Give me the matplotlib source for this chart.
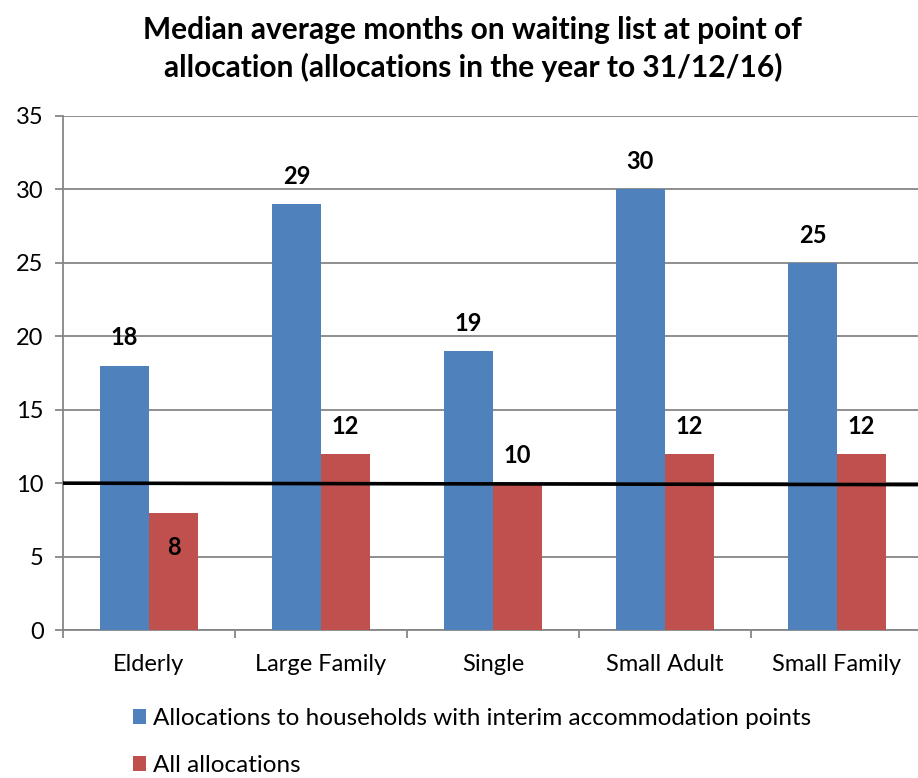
import matplotlib
matplotlib.use("Agg")
import matplotlib.pyplot as plt
import numpy as np

categories = ["Elderly", "Large Family", "Single", "Small Adult", "Small Family"]
interim = [18, 29, 19, 30, 25]
all_alloc = [8, 12, 10, 12, 12]
ref_line = [10.0, 9.9]
series_names = ["Allocations to households with interim accommodation points",
                "All allocations"]

plt.rcParams['font.family'] = ['Lato', 'DejaVu Sans']

fig = plt.figure(figsize=(9.18, 7.78), dpi=100)
ax = fig.add_axes([0.0686, 0.1902, 0.9368, 0.6607])

x = np.arange(len(categories))
w = 0.285
blue = "#4F81BD"
red = "#C0504D"
b1 = ax.bar(x - w / 2, interim, w, color=blue, label=series_names[0], zorder=3)
b2 = ax.bar(x + w / 2, all_alloc, w, color=red, label=series_names[1], zorder=3)

ax.set_xlim(-0.5, len(categories) - 0.5)
ax.set_ylim(0, 35)
ax.set_yticks(range(0, 36, 5))
ax.yaxis.grid(True, color="#868686", lw=1.3, zorder=0)

# reference line
ax.plot([-0.5, len(categories) - 0.5], ref_line, color="black", lw=2.6, zorder=4)

# data labels
for xi, v in zip(x - w / 2, interim):
    ax.annotate(str(v), (xi, v), xytext=(0, 20), textcoords="offset points",
                ha="center", va="center", fontsize=17, fontweight="bold")
for i, (xi, v) in enumerate(zip(x + w / 2, all_alloc)):
    if i == 0:
        # this one sits inside the bar
        ax.annotate(str(v), (xi, v), xytext=(0, -25), textcoords="offset points",
                    ha="center", va="center", fontsize=17, fontweight="bold", zorder=5)
    else:
        ax.annotate(str(v), (xi, v), xytext=(0, 20), textcoords="offset points",
                    ha="center", va="center", fontsize=17, fontweight="bold")

ax.set_xticks(x)
ax.set_xticklabels(categories, fontsize=17)
ax.set_xticks(np.arange(-0.5, len(categories), 1), minor=True)
ax.tick_params(axis="x", which="major", length=0, pad=17)
ax.tick_params(axis="x", which="minor", length=6, color="#868686", width=1.3)
ax.tick_params(axis="y", length=6, color="#868686", width=1.3, labelsize=17, pad=8)

for s in ["top", "right"]:
    ax.spines[s].set_visible(False)
for s in ["left", "bottom"]:
    ax.spines[s].set_color("#868686")
    ax.spines[s].set_linewidth(1.3)

fig.text(0.515, 0.937, "Median average months on waiting list at point of\n"
         "allocation (allocations in the year to 31/12/16)",
         ha="center", va="center", fontsize=21.5, fontweight="bold", linespacing=1.37)

fig.legend(handles=[b1, b2], loc="upper left", bbox_to_anchor=(0.134, 0.102),
           frameon=False, fontsize=17.5, handlelength=0.55, handleheight=0.55,
           handletextpad=0.3, labelspacing=1.05, borderaxespad=0)

fig.savefig("out.png", dpi=100)
